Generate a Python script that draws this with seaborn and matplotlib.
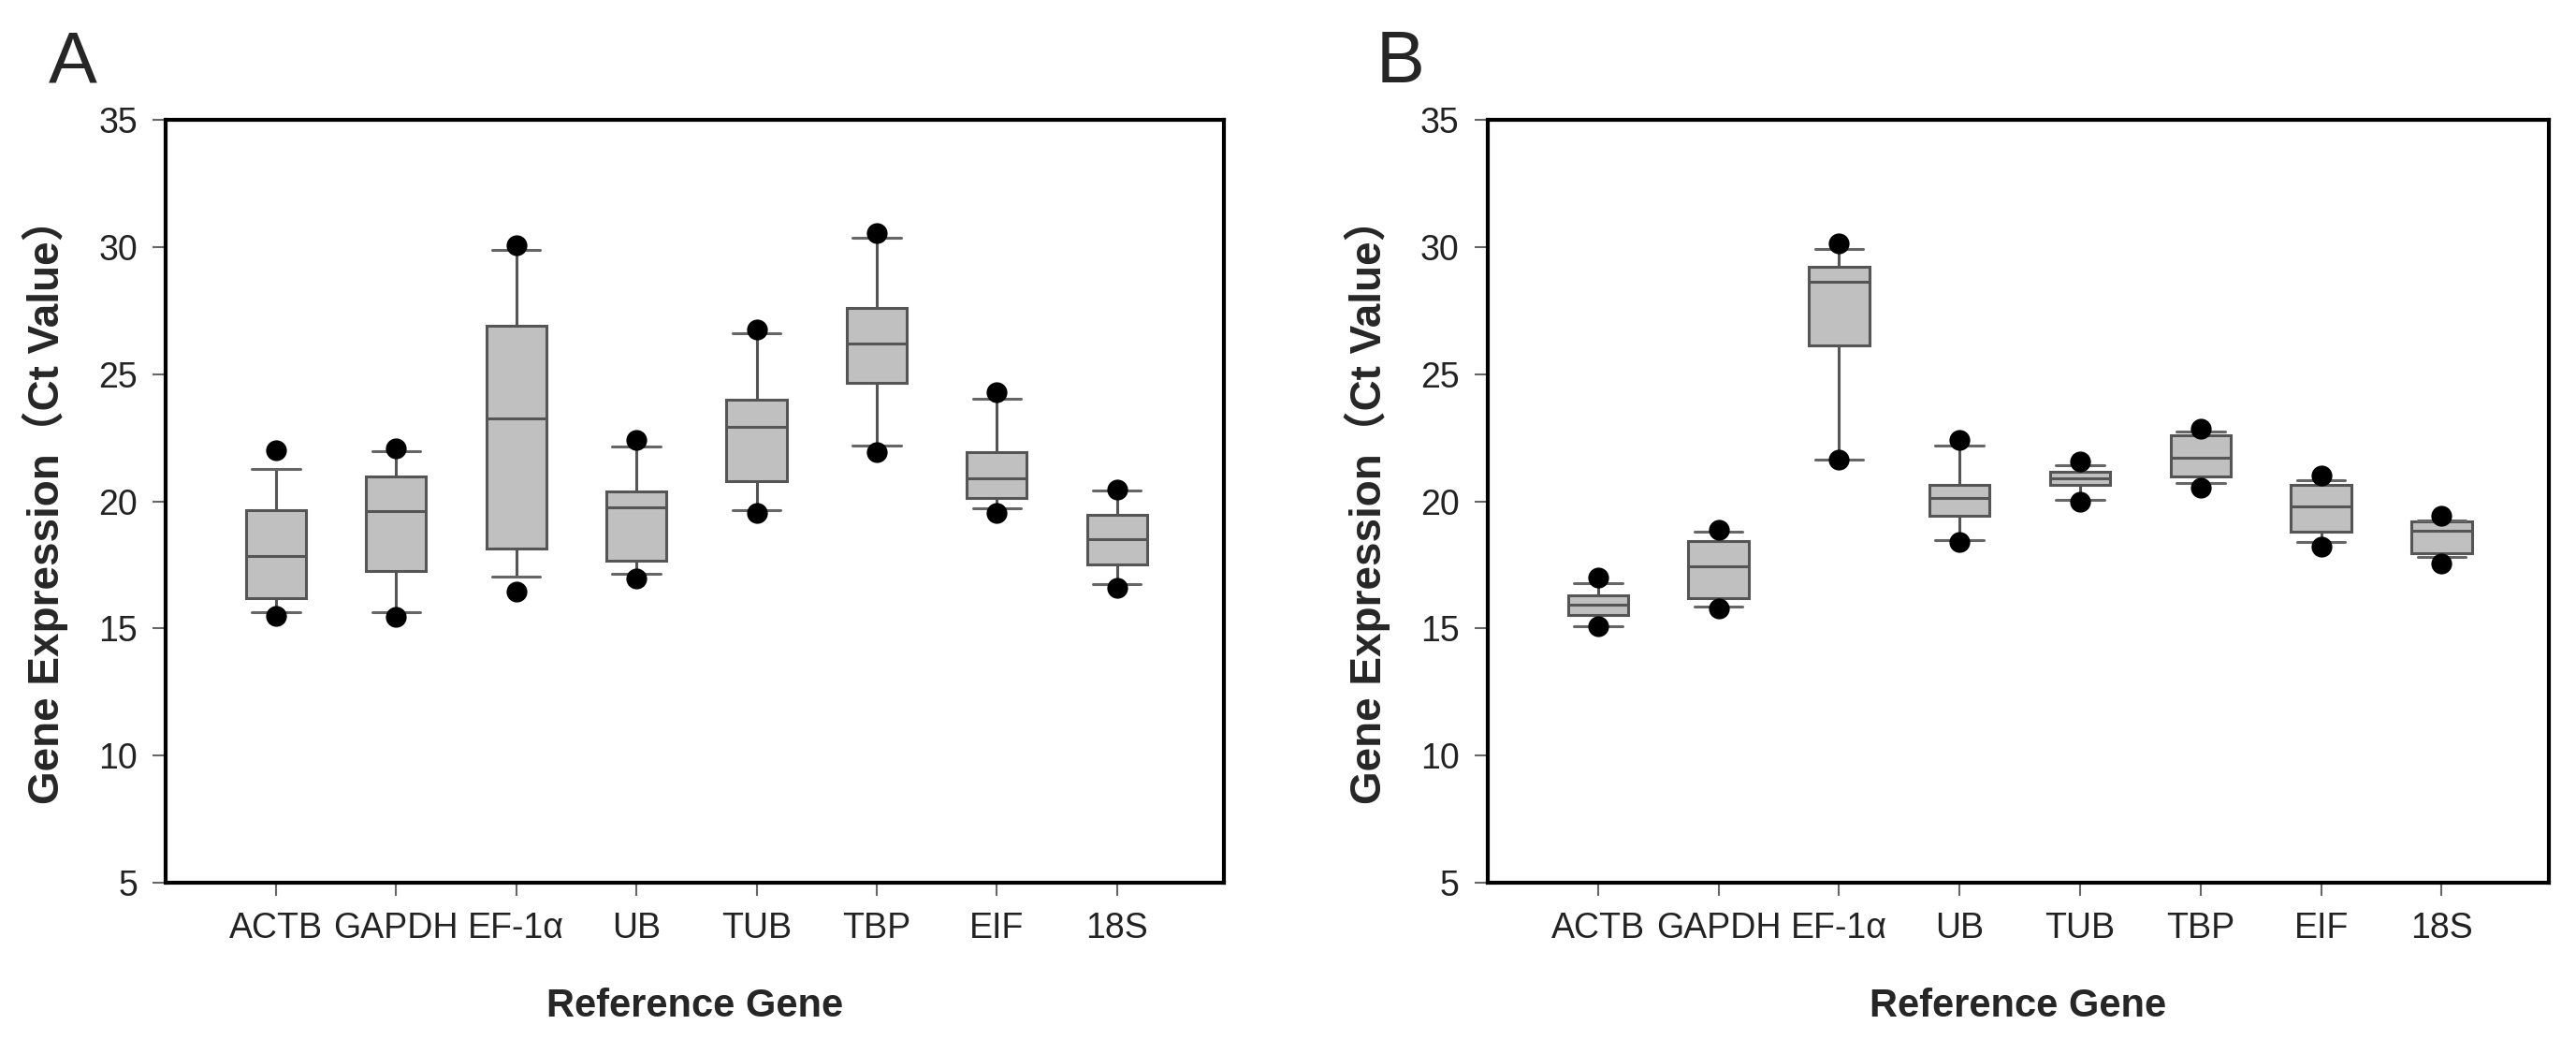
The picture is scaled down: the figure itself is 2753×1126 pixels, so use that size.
import matplotlib
matplotlib.use("Agg")
import matplotlib.pyplot as plt
import seaborn as sns
import pandas as pd

# Reference genes on the x axis
genes = ['ACTB', 'GAPDH', 'EF-1α', 'UB', 'TUB', 'TBP', 'EIF', '18S']

# Panel A: box statistics (Ct values)
a_low_dot = [15.49, 15.44, 16.44, 16.97, 19.55, 21.92, 19.55, 16.60]
a_whislo = [15.65, 15.65, 17.02, 17.15, 19.66, 22.19, 19.74, 16.73]
a_q1 = [16.18, 17.26, 18.13, 17.68, 20.79, 24.67, 20.13, 17.52]
a_med = [17.84, 19.60, 23.27, 19.75, 22.93, 26.22, 20.90, 18.52]
a_q3 = [19.66, 20.96, 26.90, 20.40, 24.01, 27.59, 21.95, 19.47]
a_whishi = [21.27, 21.97, 29.88, 22.16, 26.62, 30.36, 24.03, 20.42]
a_high_dot = [22.01, 22.07, 30.06, 22.41, 26.77, 30.54, 24.27, 20.45]

# Panel B
b_low_dot = [15.10, 15.78, 21.63, 18.39, 19.97, 20.53, 18.21, 17.55]
b_whislo = [15.10, 15.87, 21.63, 18.47, 20.05, 20.71, 18.39, 17.81]
b_q1 = [15.53, 16.20, 26.12, 19.42, 20.66, 20.97, 18.79, 17.97]
b_med = [15.92, 17.46, 28.62, 20.13, 20.92, 21.71, 19.79, 18.84]
b_q3 = [16.29, 18.42, 29.23, 20.63, 21.16, 22.61, 20.63, 19.21]
b_whishi = [16.79, 18.79, 29.91, 22.19, 21.42, 22.74, 20.82, 19.26]
b_high_dot = [17.00, 18.89, 30.15, 22.40, 21.55, 22.87, 21.03, 19.44]

sns.set_style("white")
plt.rcParams['font.family'] = ['Liberation Sans', 'Noto Sans CJK SC', 'DejaVu Sans']


def make_frames(lo_dot, wlo, q1, med, q3, whi, hi_dot):
    # five values per gene give exactly these quartiles with whis=(0, 100)
    box_rows = []
    dot_rows = []
    for i, g in enumerate(genes):
        for v in (wlo[i], q1[i], med[i], q3[i], whi[i]):
            box_rows.append({'gene': g, 'ct': v})
        dot_rows.append({'gene': g, 'ct': lo_dot[i]})
        dot_rows.append({'gene': g, 'ct': hi_dot[i]})
    return pd.DataFrame(box_rows), pd.DataFrame(dot_rows)


def draw_panel(ax, box_df, dot_df):
    sns.boxplot(data=box_df, x='gene', y='ct', order=genes, whis=(0, 100),
                width=0.5, color='#c0c0c0', saturation=1, linecolor='#555555',
                linewidth=2.2, showfliers=False, ax=ax)
    # caps a bit narrower than the box
    for cont in ax.containers:
        for cap in getattr(cont, 'caps', []):
            xs = cap.get_xdata()
            c = (xs[0] + xs[1]) / 2
            cap.set_xdata([c - 0.2, c + 0.2])
            cap.set_color('#666666')
    sns.stripplot(data=dot_df, x='gene', y='ct', order=genes, jitter=False,
                  color='black', size=16, linewidth=0, ax=ax, zorder=5)

    ax.set_ylim(5, 35)
    ax.set_yticks(range(5, 40, 5))
    ax.set_xlim(-0.915, 7.89)
    for s in ax.spines.values():
        s.set_visible(True)
        s.set_color('black')
        s.set_linewidth(3)
    ax.tick_params(axis='both', direction='out', length=10, width=1.5,
                   color='#666666', labelsize=27, labelcolor='#222222', pad=12,
                   bottom=True, left=True, top=False, right=False)
    ax.grid(False)
    ax.set_xlabel('Reference Gene', fontsize=30, fontweight='bold')
    ax.xaxis.set_label_coords(0.5, -0.137)
    ax.set_ylabel('Gene Expression（Ct Value）', fontsize=33, fontweight='bold')
    ax.yaxis.set_label_coords(-0.092, 0.5)


fig = plt.figure(figsize=(27.53, 11.26), dpi=100)
ax_a = fig.add_axes([177.5 / 2753, 1 - 943 / 1126, 1130.5 / 2753, 815 / 1126])
ax_b = fig.add_axes([1590 / 2753, 1 - 943 / 1126, 1134 / 2753, 815 / 1126])

box_a, dots_a = make_frames(a_low_dot, a_whislo, a_q1, a_med, a_q3, a_whishi, a_high_dot)
box_b, dots_b = make_frames(b_low_dot, b_whislo, b_q1, b_med, b_q3, b_whishi, b_high_dot)
draw_panel(ax_a, box_a, dots_a)
draw_panel(ax_b, box_b, dots_b)

fig.text(52 / 2753, 1 - 88 / 1126, 'A', fontsize=56, va='baseline', ha='left')
fig.text(1471 / 2753, 1 - 88 / 1126, 'B', fontsize=56, va='baseline', ha='left')

fig.savefig("out.png", dpi=100)
